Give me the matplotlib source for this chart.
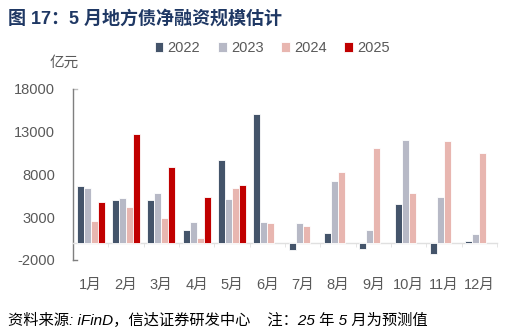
import numpy as np
import matplotlib.pyplot as plt

plt.rcParams['font.family'] = ['Liberation Sans', 'Noto Sans CJK SC', 'DejaVu Sans']
plt.rcParams['axes.unicode_minus'] = False

months = ['1月', '2月', '3月', '4月', '5月', '6月', '7月', '8月', '9月', '10月', '11月', '12月']
years = ['2022', '2023', '2024', '2025']
v2022 = [6700, 5000, 5050, 1500, 9700, 15050, -820, 1200, -670, 4500, -1300, 270]
v2023 = [6420, 5300, 5850, 2480, 5100, 2400, 2280, 7220, 1500, 12080, 5420, 980]
v2024 = [2600, 4150, 2870, 600, 6400, 2280, 1970, 8240, 11100, 5800, 11900, 10550]
v2025 = [4780, 12780, 8820, 5330, 6820]
colors = ['#44546A', '#B7B9C6', '#E8B6B0', '#C00000']

fig = plt.figure(figsize=(5.09, 3.32), dpi=100)
ax = fig.add_axes([0.1434, 0.217, 0.833, 0.515])

x = np.arange(len(months))
w = 0.2
series = [v2022, v2023, v2024, v2025]
for i, (vals, c, lab) in enumerate(zip(series, colors, years)):
    xs = x[:len(vals)] + (i - 1.5) * w
    ax.bar(xs, vals, width=w, color=c, edgecolor='white', linewidth=0.6, label=lab, zorder=3)

ax.set_xlim(-0.5, 11.5)
ax.set_ylim(-2000, 18000)
ax.set_yticks([-2000, 3000, 8000, 13000, 18000])
ax.tick_params(axis='y', length=0, pad=13, labelsize=10.5, labelcolor='#595959')

# 零轴作为横轴, 月份标签放在底部
for s in ['top', 'right']:
    ax.spines[s].set_visible(False)
ax.spines['left'].set_color('#7F7F7F')
ax.spines['left'].set_linewidth(1.0)
ax.spines['bottom'].set_position(('data', 0))
ax.spines['bottom'].set_color('#E0E0E0')
ax.spines['bottom'].set_linewidth(1.0)
ax.set_xticks(x)
ax.set_xticklabels(months)
ax.tick_params(axis='x', length=0, pad=25, labelsize=10.5, labelcolor='#595959')
ax.set_xticks(np.arange(-0.5, 12, 1), minor=True)
ax.tick_params(axis='x', which='minor', length=3, color='#E0E0E0', direction='out')
ax.plot([0, 0.01], [18000, 18000], transform=ax.get_yaxis_transform(), color='#BFBFBF', lw=1, clip_on=False)
ax.plot([0, 0.01], [-2000, -2000], transform=ax.get_yaxis_transform(), color='#7F7F7F', lw=1, clip_on=False)

fig.legend(loc='center', bbox_to_anchor=(0.535, 0.855), ncol=4, frameon=False,
           fontsize=10.5, labelcolor='#595959', handlelength=0.6, handleheight=0.6,
           handletextpad=0.3, columnspacing=1.2)

fig.text(0.098, 0.81, '亿元', fontsize=10.5, color='#595959', va='center')
fig.text(0.016, 0.945, '图 17：5 月地方债净融资规模估计', fontsize=13, fontweight='bold',
         color='#1F3864', va='center')
fig.text(0.016, 0.035, '资料来源: iFinD，信达证券研发中心    注：25 年 5 月为预测值', fontsize=11,
         style='italic', color='#000000', va='center')

fig.savefig('out.png', dpi=100)
